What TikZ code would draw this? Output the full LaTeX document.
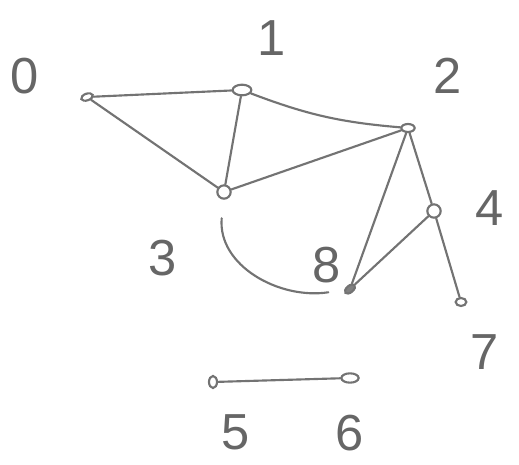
\documentclass[tikz,border=0pt]{standalone}
\usepackage{fontspec}
\setmainfont{Liberation Sans}
\usetikzlibrary{shapes.geometric}
\begin{document}
\begin{tikzpicture}[x={(0.75pt,0)},y={(0,-0.75pt)},
  pen/.style={draw=black!55, line width=1.6pt, line cap=round},
  vtx/.style={pen, ellipse, inner sep=0pt, minimum width=12pt, minimum height=8pt},
  lbl/.style={text=black!60, font=\fontsize{38}{38}\selectfont}]
\useasboundingbox (0,0) rectangle (519,465);
\node[vtx, minimum width=9pt, minimum height=5pt, rotate=20] (n0) at (87,97) {};
\node[vtx, minimum width=14pt, minimum height=8pt] (n1) at (242,90) {};
\node[vtx, minimum width=10pt, minimum height=6pt] (n2) at (408,128) {};
\node[vtx, minimum width=10pt, minimum height=10pt] (n3) at (224,192) {};
\node[vtx, minimum width=10pt, minimum height=10pt] (n4) at (434,211) {};
\node[vtx, minimum width=9pt, minimum height=5pt, rotate=40, fill=black!50] (n8) at (350,289) {};
\node[vtx, minimum width=8pt, minimum height=6pt] (n7) at (461,302) {};
\node[vtx, minimum width=6pt, minimum height=9pt] (n5) at (213,382) {};
\node[vtx, minimum width=13pt, minimum height=7pt] (n6) at (350,378) {};
\node[lbl] (l0) at (25,76) {0};
\node[lbl] (l1) at (272,38) {1};
\node[lbl] (l2) at (448,76) {2};
\node[lbl] (l3) at (163,258) {3};
\node[lbl] (l4) at (490,208) {4};
\node[lbl] (l8) at (327,265) {8};
\node[lbl] (l7) at (485,352) {7};
\node[lbl] (l5) at (236,432) {5};
\node[lbl] (l6) at (350,433) {6};
\draw[pen] (n0) -- (n1);
\draw[pen] (n0) -- (n3);
\draw[pen] (n1) -- (n3);
\draw[pen] (n1) to[bend right=8] (n2);
\draw[pen] (n3) -- (n2);
\draw[pen] (n2) -- (n8);
\draw[pen] (n2) -- (n4);
\draw[pen] (n4) -- (n8);
\draw[pen] (n4) -- (n7);
\draw[pen, shorten <=14pt, shorten >=12pt] (n3) to[out=-95, in=185, looseness=1.1] (n8);
\draw[pen] (n5) -- (n6);
\end{tikzpicture}
\end{document}
